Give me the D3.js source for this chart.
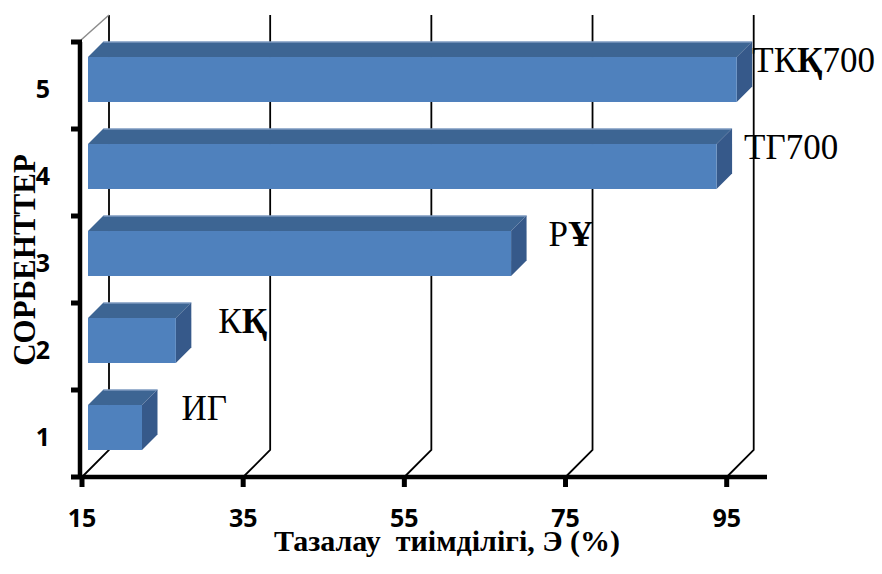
<!DOCTYPE html>
<html>
<head>
<meta charset="utf-8">
<script src="https://cdn.jsdelivr.net/npm/d3@7"></script>
<style>
  html, body { margin: 0; padding: 0; background: #fff; }
  svg { display: block; }
</style>
</head>
<body>
<svg id="chart" width="882" height="574"></svg>
<script>
// Sorbent categories (bottom to top) and their purification efficiency, %
const categories = ["1", "2", "3", "4", "5"];
const sorbents = ["ИГ", "КҚ", "РҰ", "ТГ700", "ТКҚ700"];
const efficiency = [21.7, 25.9, 67.5, 93.0, 95.5];
const xTicks = [15, 35, 55, 75, 95];
const xTitle = "Тазалау  тиімділігі, Э (%)";
const yTitle = "СОРБЕНТТЕР";

const svg = d3.select("#chart");
const serif = "'Liberation Serif', 'DejaVu Serif Condensed', 'DejaVu Serif', serif";
const axisFont = "'Open Sans', Lato, sans-serif";

// 3D layout: front plane scales, plus an oblique depth offset
const x = d3.scaleLinear().domain([15, 100]).range([82, 767]);
const y = d3.scaleBand()
  .domain(categories.slice().reverse())
  .range([42, 477])
  .paddingInner(0.483)
  .paddingOuter(0.2415);
const wallDepth = 27;
const barFront = 6, barBack = 21.5;
const floorY = y.range()[1], topY = y.range()[0];

const colFront = "#4F81BD", colTop = "#3D6593", colSide = "#36598A";

// Back wall gridlines with their floor diagonals
const grid = svg.append("g");
xTicks.forEach(t => {
  const xf = x(t), xb = x(t) + wallDepth;
  grid.append("path")
    .attr("d", `M${xb},${topY - wallDepth} L${xb},${floorY - wallDepth} L${xf},${floorY}`)
    .attr("fill", "none").attr("stroke", "#000").attr("stroke-width", 1.8);
});
// Side wall top edge
svg.append("line")
  .attr("x1", x(15) - 1).attr("y1", topY - 2)
  .attr("x2", x(15) + wallDepth).attr("y2", topY - wallDepth)
  .attr("stroke", "#8c8c8c").attr("stroke-width", 1.5);

// Bars as oblique boxes
const t = barBack - barFront;
const bw = y.bandwidth();
const bars = svg.append("g");
categories.forEach((c, i) => {
  const v = efficiency[i];
  const x0 = x(15) + barFront, x1 = x(v) + barFront;
  const y0 = y(c) - barFront, y1 = y0 + bw;
  bars.append("path")
    .attr("d", `M${x0},${y0} L${x0 + t},${y0 - t} L${x1 + t},${y0 - t} L${x1},${y0} Z`)
    .attr("fill", colTop);
  bars.append("line")
    .attr("x1", x0 + t).attr("y1", y0 - t + 0.5).attr("x2", x1 + t).attr("y2", y0 - t + 0.5)
    .attr("stroke", "#9db4d6").attr("stroke-width", 1);
  bars.append("path")
    .attr("d", `M${x1},${y0} L${x1 + t},${y0 - t} L${x1 + t},${y1 - t} L${x1},${y1} Z`)
    .attr("fill", colSide);
  bars.append("rect")
    .attr("x", x0).attr("y", y0).attr("width", x1 - x0).attr("height", bw)
    .attr("fill", colFront);
});

// Sorbent name labels beside each bar (Қ and Ұ set in bold)
const labelNudge = [24, 27, 22, 12, 0];
const labels = svg.append("g")
  .attr("font-family", serif)
  .attr("font-size", 35).attr("fill", "#000");
categories.forEach((c, i) => {
  const xe = x(efficiency[i]) + barBack + labelNudge[i];
  const yc = y(c) + bw / 2 - (barFront + barBack) / 2;
  const txt = labels.append("text").attr("x", xe).attr("y", yc);
  Array.from(sorbents[i]).forEach(ch => {
    txt.append("tspan").attr("font-weight", "ҚҰ".includes(ch) ? "bold" : "normal").text(ch);
  });
});

// Axes
svg.append("line")
  .attr("x1", x(15) - 2).attr("y1", floorY).attr("x2", x(100)).attr("y2", floorY)
  .attr("stroke", "#000").attr("stroke-width", 4.5);
svg.append("line")
  .attr("x1", x(15) - 2).attr("y1", topY).attr("x2", x(15) - 2).attr("y2", floorY)
  .attr("stroke", "#000").attr("stroke-width", 4.5);
// value-axis ticks and labels
xTicks.forEach(tk => {
  svg.append("line")
    .attr("x1", x(tk)).attr("y1", floorY).attr("x2", x(tk)).attr("y2", floorY + 10)
    .attr("stroke", "#000").attr("stroke-width", 5);
  svg.append("text")
    .attr("x", x(tk)).attr("y", 527)
    .attr("text-anchor", "middle")
    .attr("font-family", axisFont).attr("font-weight", "bold").attr("font-size", 25)
    .text(tk);
});
// category-axis ticks (between categories) and labels
const bounds = [topY].concat(categories.slice().reverse().map(c => y(c) + bw + y.step() * y.paddingInner() / 2));
bounds.forEach(b => {
  svg.append("line")
    .attr("x1", x(15) - 11).attr("y1", b).attr("x2", x(15)).attr("y2", b)
    .attr("stroke", "#000").attr("stroke-width", 5);
});
categories.forEach(c => {
  svg.append("text")
    .attr("x", 43).attr("y", y(c) + bw / 2 + 2)
    .attr("text-anchor", "middle").attr("dominant-baseline", "central")
    .attr("font-family", axisFont).attr("font-weight", "bold").attr("font-size", 25)
    .text(c);
});

// Axis titles
svg.append("text")
  .attr("x", 447).attr("y", 551)
  .attr("text-anchor", "middle")
  .attr("font-family", serif)
  .attr("font-weight", "bold").attr("font-size", 30)
  .style("white-space", "pre")
  .text(xTitle);
svg.append("text")
  .attr("transform", "translate(35,260) rotate(-90)")
  .attr("text-anchor", "middle")
  .attr("font-family", serif)
  .attr("font-weight", "bold").attr("font-size", 31)
  .text(yTitle);
</script>
</body>
</html>
